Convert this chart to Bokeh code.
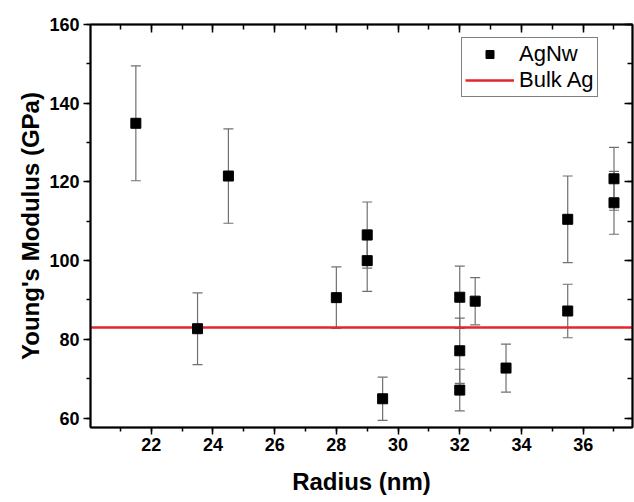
from bokeh.plotting import figure
from bokeh.models import (LinearAxis, Whisker, TeeHead, ColumnDataSource,
                          Range1d, Legend, LegendItem, CustomJSTickFormatter,
                          SingleIntervalTicker)
from bokeh.embed import file_html
from bokeh.resources import INLINE

# ---- data ----
radius = [21.5, 23.5, 24.5, 28.0, 29.0, 29.0, 29.5, 32.0, 32.0, 32.0, 32.5, 33.5, 35.5, 35.5, 37.0, 37.0]
modulus = [134.9, 82.7, 121.5, 90.6, 106.5, 100.0, 64.9, 90.7, 77.1, 67.1, 89.7, 72.7, 110.5, 87.2, 120.8, 114.7]
error = [14.6, 9.1, 12.0, 7.8, 8.4, 7.8, 5.5, 7.9, 8.3, 5.3, 6.0, 6.1, 11.0, 6.8, 8.0, 8.0]
bulk_ag = 83.0
series_names = ["AgNw", "Bulk Ag"]
x_label = "Radius (nm)"
y_label = "Young's Modulus (GPa)"
x_lo, x_hi = 20.03, 37.6
y_lo, y_hi = 57.6, 160.0

FONT = "Liberation Sans"
RED = "#e3262b"
ERR = "#707070"

src = ColumnDataSource(dict(
    x=radius, y=modulus,
    upper=[m + e for m, e in zip(modulus, error)],
    lower=[m - e for m, e in zip(modulus, error)],
))
bulk_src = ColumnDataSource(dict(x=[x_lo, x_hi], y=[bulk_ag, bulk_ag]))

p = figure(frame_width=542, frame_height=403, output_backend="svg",
           toolbar_location=None, x_axis_location=None, y_axis_location=None,
           x_range=Range1d(x_lo, x_hi), y_range=Range1d(y_lo, y_hi),
           min_border_left=90, min_border_right=2, min_border_top=24,
           min_border_bottom=4)
p.grid.visible = False
p.outline_line_color = "black"
p.outline_line_width = 1.5
p.background_fill_color = "white"
p.border_fill_color = "white"

xt = SingleIntervalTicker(interval=2, num_minor_ticks=2)
yt = SingleIntervalTicker(interval=20, num_minor_ticks=2)

def style(ax, inside, labels=True):
    ax.axis_line_width = 2
    ax.axis_line_color = "black"
    ax.major_tick_line_width = 1.5
    ax.minor_tick_line_width = 1.5
    if inside:
        ax.major_tick_in, ax.major_tick_out = 8, 0
        ax.minor_tick_in, ax.minor_tick_out = 5, 0
    else:
        ax.major_tick_in, ax.major_tick_out = 0, 7
        ax.minor_tick_in, ax.minor_tick_out = 0, 4
    ax.major_label_text_font = FONT
    ax.major_label_text_font_style = "bold"
    ax.major_label_text_font_size = "18px"
    ax.major_label_text_color = "black"
    ax.axis_label_text_font = FONT
    ax.axis_label_text_font_style = "bold"
    ax.axis_label_text_font_size = "24px"
    ax.axis_label_text_color = "black"
    if not labels:
        ax.formatter = CustomJSTickFormatter(code="return ''")
        ax.major_label_standoff = 0

bottom = LinearAxis(ticker=xt, axis_label=x_label)
style(bottom, False)
bottom.major_label_standoff = 3
bottom.axis_label_standoff = 14
p.add_layout(bottom, "below")

left = LinearAxis(ticker=yt, axis_label=y_label)
style(left, False)
left.major_label_standoff = 4
left.axis_label_standoff = 2
p.add_layout(left, "left")

top = LinearAxis(ticker=xt)
style(top, True, labels=False)
p.add_layout(top, "above")

right = LinearAxis(ticker=yt)
style(right, True, labels=False)
p.add_layout(right, "right")

# error bars
wh = Whisker(source=src, base="x", upper="upper", lower="lower", dimension="height",
             line_color=ERR, line_width=1.2,
             upper_head=TeeHead(size=10, line_color=ERR, line_width=1.2),
             lower_head=TeeHead(size=10, line_color=ERR, line_width=1.2))
wh.level = "underlay"
p.add_layout(wh)

# bulk line
bulk_r = p.line("x", "y", source=bulk_src, line_color=RED, line_width=2.5)

pts = p.scatter("x", "y", source=src, marker="square", size=10,
                fill_color="black", line_color="black")

legend = Legend(items=[LegendItem(label=series_names[0], renderers=[pts]),
                       LegendItem(label=series_names[1], renderers=[bulk_r])],
                location=(371, 330))
legend.label_text_font = FONT
legend.label_text_font_size = "22px"
legend.label_text_color = "black"
legend.glyph_width = 49
legend.glyph_height = 20
legend.label_height = 20
legend.label_standoff = 5
legend.spacing = 0
legend.padding = 3
legend.margin = 0
legend.border_line_color = "black"
legend.border_line_width = 1
legend.background_fill_color = "white"
legend.background_fill_alpha = 1.0
p.add_layout(legend, "center")

open("out.html", "w").write(file_html(p, INLINE))
